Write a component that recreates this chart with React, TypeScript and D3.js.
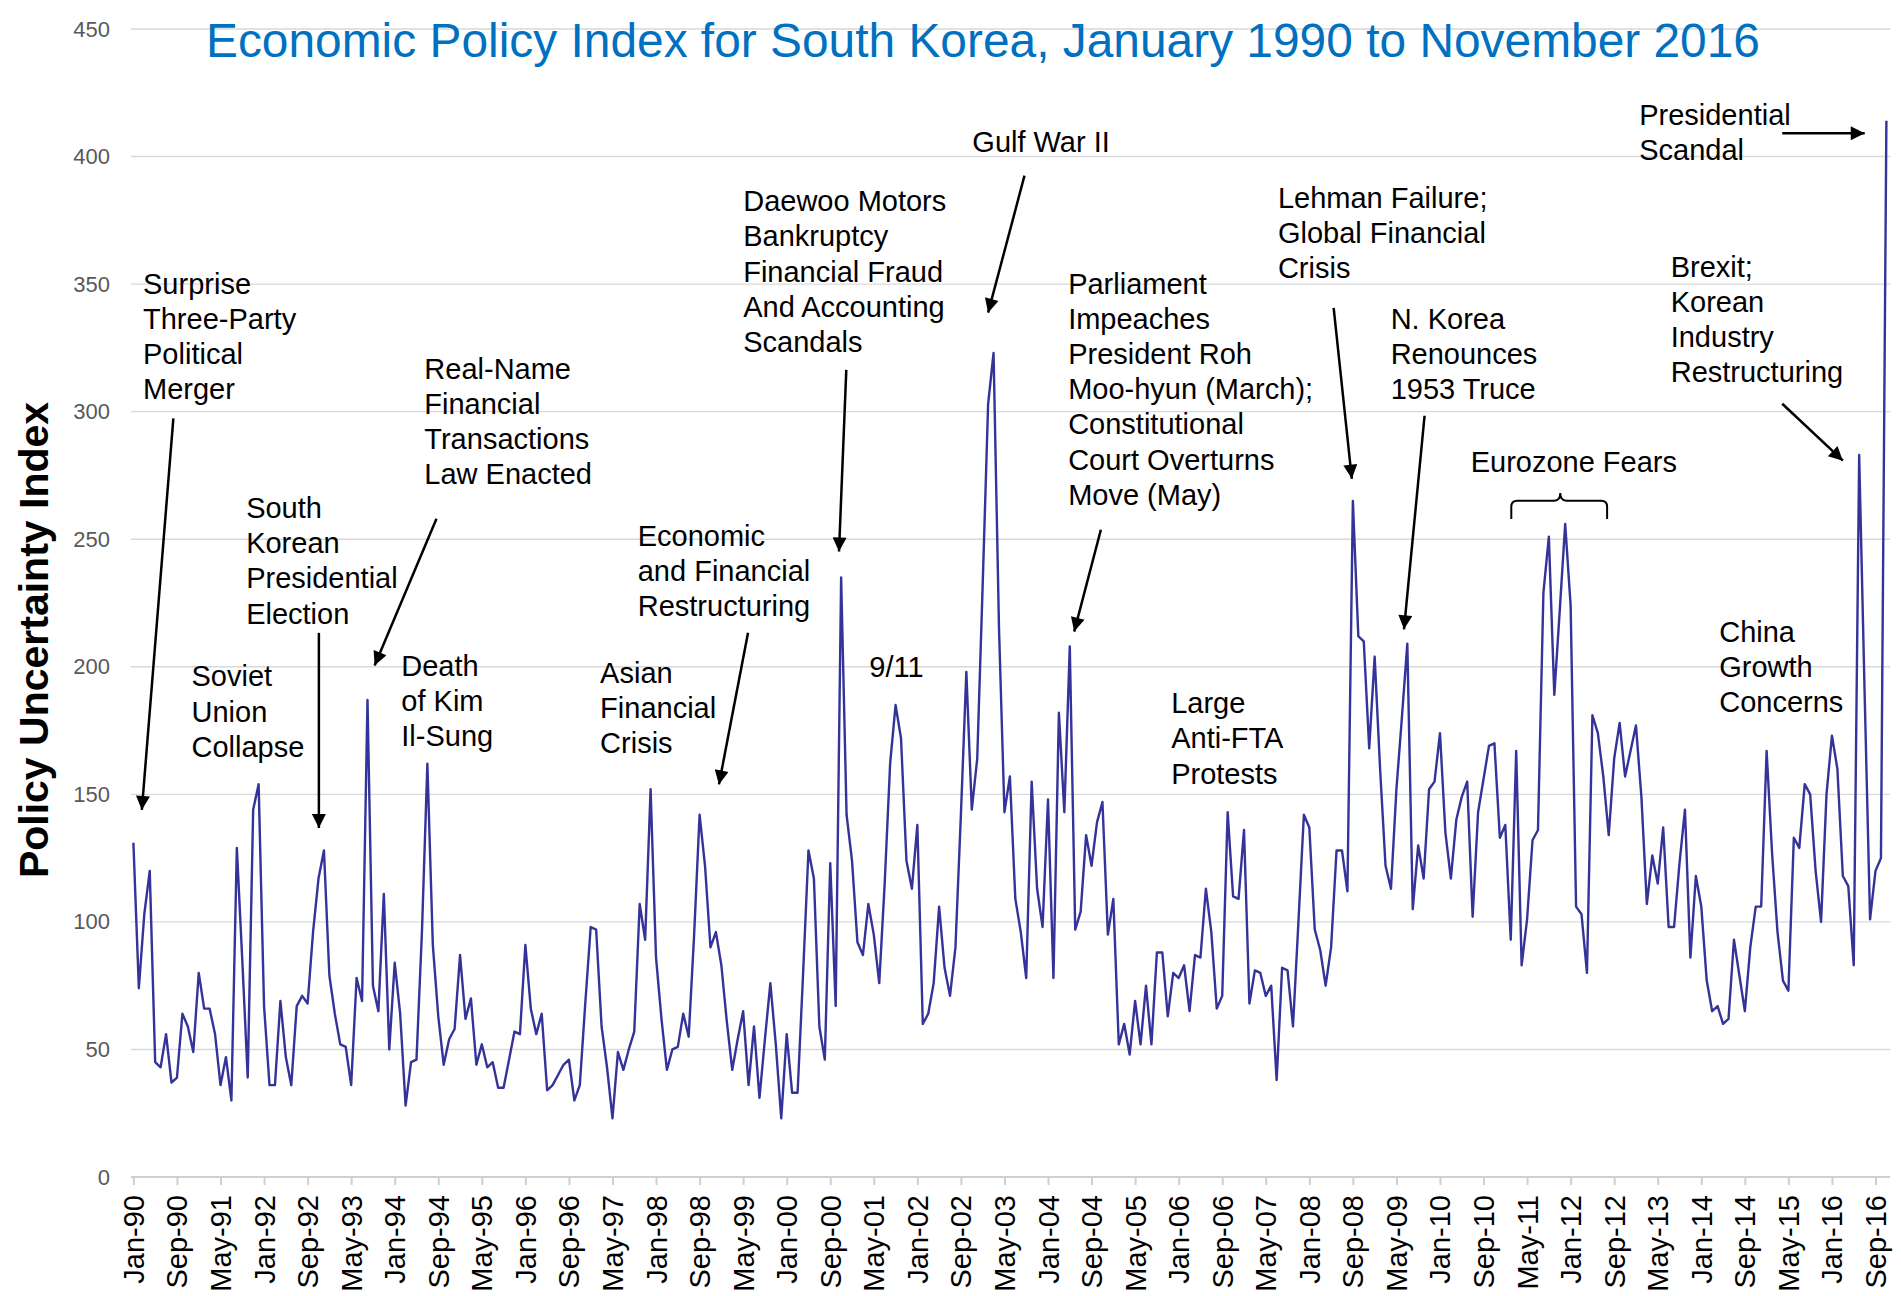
import { useEffect, useRef } from 'react';
import * as d3 from 'd3';

// Monthly policy uncertainty index, one array per decade (Jan 1990 .. Nov 2016)
const epu1990s = [
    131, 74, 103, 120, 45, 43, 56, 37, 39, 64, 59, 49,
    80, 66, 66, 56, 36, 47, 30, 129, 85, 39, 144, 154,
    67, 36, 36, 69, 47, 36, 67, 71, 68, 96, 117, 128,
    79, 64, 52, 51, 36, 78, 69, 187, 75, 65, 111, 50,
    84, 64, 28, 45, 46, 96, 162, 91, 63, 44, 54, 58,
    87, 62, 70, 44, 52, 43, 45, 35, 35, 46, 57, 56,
    91, 66, 56, 64, 34, 36, 40, 44, 46, 30, 36, 68,
    98, 97, 59, 43, 23, 49, 42, 50, 57, 107, 93, 152,
    86, 62, 42, 50, 51, 64, 55, 95, 142, 122, 90, 96,
    83, 61, 42, 54, 65, 36, 59, 31, 54, 76, 52, 23,
];
const epu2000s = [
    56, 33, 33, 79, 128, 117, 59, 46, 123, 67, 235, 142,
    124, 92, 87, 107, 95, 76, 115, 162, 185, 172, 124, 113,
    138, 60, 64, 76, 106, 82, 71, 90, 142, 198, 144, 164,
    232, 303, 323, 215, 143, 157, 109, 96, 78, 155, 113, 98,
    148, 78, 182, 143, 208, 97, 104, 134, 122, 139, 147, 95,
    109, 52, 60, 48, 69, 52, 75, 52, 88, 88, 63, 80,
    78, 83, 65, 87, 86, 113, 96, 66, 71, 143, 110, 109,
    136, 68, 81, 80, 71, 75, 38, 82, 81, 59, 100, 142,
    137, 97, 89, 75, 90, 128, 128, 112, 265, 212, 210, 168,
    204, 160, 122, 113, 152, 180, 209, 105, 130, 117, 152, 155,
];
const epu2010s = [
    174, 135, 117, 140, 149, 155, 102, 143, 156, 169, 170, 133,
    138, 93, 167, 83, 101, 132, 136, 229, 251, 189, 222, 256,
    224, 106, 103, 80, 181, 174, 157, 134, 164, 178, 157, 167,
    177, 149, 107, 126, 115, 137, 98, 98, 123, 144, 86, 118,
    106, 77, 65, 67, 60, 62, 93, 79, 65, 90, 106, 106,
    167, 127, 96, 77, 73, 133, 129, 154, 150, 120, 100, 150,
    173, 160, 118, 114, 83, 283, 190, 101, 120, 125, 414,
];

// category labels shown every 8 months
const tickLabels = [
    "Jan-90", "Sep-90", "May-91", "Jan-92", "Sep-92", "May-93", "Jan-94", "Sep-94", "May-95",
    "Jan-96", "Sep-96", "May-97", "Jan-98", "Sep-98", "May-99", "Jan-00", "Sep-00", "May-01",
    "Jan-02", "Sep-02", "May-03", "Jan-04", "Sep-04", "May-05", "Jan-06", "Sep-06", "May-07",
    "Jan-08", "Sep-08", "May-09", "Jan-10", "Sep-10", "May-11", "Jan-12", "Sep-12", "May-13",
    "Jan-14", "Sep-14", "May-15", "Jan-16", "Sep-16",
];
const yTicks = [0, 50, 100, 150, 200, 250, 300, 350, 400, 450];

// event notes, placed in data space (month index, index value)
const annotations = [
    { lines: ["Surprise", "Three-Party", "Political", "Merger"], m: 1.77, v: 350.2, arrow: [7.34, 297.4, 1.55, 143.9] },
    { lines: ["Soviet", "Union", "Collapse"], m: 10.68, v: 196.2 },
    { lines: ["South", "Korean", "Presidential", "Election"], m: 20.71, v: 262.2, arrow: [34.07, 213.3, 34.07, 136.8] },
    { lines: ["Real-Name", "Financial", "Transactions", "Law Enacted"], m: 53.44, v: 316.9, arrow: [55.67, 258.0, 44.31, 200.5] },
    { lines: ["Death", "of Kim", "Il-Sung"], m: 49.21, v: 200.5 },
    { lines: ["Asian", "Financial", "Crisis"], m: 85.73, v: 197.6 },
    { lines: ["Economic", "and Financial", "Restructuring"], m: 92.64, v: 251.3, arrow: [112.9, 213.3, 107.56, 153.9] },
    { lines: ["Daewoo Motors", "Bankruptcy", "Financial Fraud", "And Accounting", "Scandals"], m: 112.01, v: 382.5, arrow: [130.95, 316.4, 129.61, 245.2] },
    { lines: ["9/11"], m: 135.18, v: 200.0 },
    { lines: ["Gulf War II"], m: 154.1, v: 405.8, arrow: [163.68, 392.5, 157.0, 338.8] },
    { lines: ["Parliament", "Impeaches", "President Roh", "Moo-hyun (March);", "Constitutional", "Court Overturns", "Move (May)"], m: 171.7, v: 350.2, arrow: [177.71, 253.7, 172.81, 213.8] },
    { lines: ["Large", "Anti-FTA", "Protests"], m: 190.63, v: 185.7 },
    { lines: ["Lehman Failure;", "Global Financial", "Crisis"], m: 210.23, v: 383.9, arrow: [220.47, 340.7, 223.81, 273.7] },
    { lines: ["N. Korea", "Renounces", "1953 Truce"], m: 230.94, v: 336.4, arrow: [237.17, 298.4, 233.39, 214.7] },
    { lines: ["Eurozone Fears"], m: 245.64, v: 280.3 },
    { lines: ["Presidential", "Scandal"], m: 276.59, v: 416.2, arrow: [302.87, 409.1, 318.02, 409.1] },
    { lines: ["Brexit;", "Korean", "Industry", "Restructuring"], m: 282.38, v: 356.8, arrow: [302.87, 303.1, 314.01, 280.8] },
    { lines: ["China", "Growth", "Concerns"], m: 291.29, v: 213.8 },
];
// brace over the eurozone months: [start, end, centre, top value, foot value, nub value]
const eurozoneBrace = [253.1, 270.7, 262.1, 265.1, 257.9, 268.1];

const FONT = "'Liberation Sans', Arial, Helvetica, sans-serif";

export default function App() {
    const svgRef = useRef<SVGSVGElement>(null);

    useEffect(() => {
        if (!svgRef.current) return;
        const svg = d3.select(svgRef.current);
        svg.selectAll("*").remove();

        const values = [...epu1990s, ...epu2000s, ...epu2010s];

        const x = d3.scaleLinear().domain([0, 320]).range([133.4, 1875.5]);
        const y = d3.scaleLinear().domain([0, 450]).range([1177, 29]);
        const xLeft = x(-0.45);
        const xRight = x(322.7);

        svg.append("rect").attr("width", 1901).attr("height", 1296).attr("fill", "#ffffff");

        const defs = svg.append("defs");
        defs.append("marker")
            .attr("id", "arrowHead")
            .attr("viewBox", "0 0 10 10")
            .attr("refX", 10)
            .attr("refY", 5)
            .attr("markerWidth", 17)
            .attr("markerHeight", 14)
            .attr("markerUnits", "userSpaceOnUse")
            .attr("orient", "auto")
            .append("path")
            .attr("d", "M0,0 L10,5 L0,10 z")
            .attr("fill", "#000");

        // Gridlines
        svg.append("g")
            .selectAll("line")
            .data(yTicks.filter(d => d > 0))
            .join("line")
            .attr("x1", xLeft)
            .attr("x2", xRight)
            .attr("y1", d => y(d))
            .attr("y2", d => y(d))
            .attr("stroke", "#d9d9d9")
            .attr("stroke-width", 1.4);

        // y tick labels
        svg.append("g")
            .selectAll("text")
            .data(yTicks)
            .join("text")
            .attr("x", 110)
            .attr("y", d => y(d))
            .attr("text-anchor", "end")
            .attr("dominant-baseline", "central")
            .style("font-family", FONT)
            .style("font-size", "22px")
            .style("fill", "#595959")
            .text(d => d);

        // x axis
        const xAxis = svg.append("g")
            .attr("transform", `translate(0,${y(0)})`)
            .call(d3.axisBottom(x)
                .tickValues(d3.range(0, 321, 8))
                .tickFormat((d, i) => tickLabels[i])
                .tickSize(8)
                .tickPadding(10))
            .call(g => g.select(".domain").remove());

        xAxis.selectAll(".tick line")
            .attr("stroke", "#d0d0d0")
            .attr("stroke-width", 2);

        xAxis.selectAll(".tick text")
            .attr("transform", "rotate(-90)")
            .attr("x", -18)
            .attr("y", 0)
            .attr("dy", null)
            .attr("text-anchor", "end")
            .attr("dominant-baseline", "central")
            .style("font-family", FONT)
            .style("font-size", "29px")
            .style("fill", "#000");

        svg.append("line")
            .attr("x1", xLeft)
            .attr("x2", xRight)
            .attr("y1", y(0))
            .attr("y2", y(0))
            .attr("stroke", "#d0d0d0")
            .attr("stroke-width", 2);

        // Index line
        const line = d3.line<number>()
            .x((d, i) => x(i))
            .y(d => y(d));

        svg.append("path")
            .datum(values)
            .attr("d", line)
            .attr("fill", "none")
            .attr("stroke", "#333399")
            .attr("stroke-width", 2.4)
            .attr("stroke-linejoin", "round");

        // Title
        svg.append("text")
            .attr("x", 206)
            .attr("y", 57)
            .attr("textLength", 1554)
            .attr("lengthAdjust", "spacingAndGlyphs")
            .style("font-family", FONT)
            .style("font-size", "47.5px")
            .style("fill", "#0070C0")
            .text("Economic Policy Index for South Korea, January 1990 to November 2016");

        // y axis title
        svg.append("text")
            .attr("transform", "translate(48,640) rotate(-90)")
            .attr("text-anchor", "middle")
            .style("font-family", FONT)
            .style("font-size", "41px")
            .style("font-weight", "bold")
            .style("fill", "#000")
            .text("Policy Uncertainty Index");

        // Annotations
        const notes = svg.append("g");
        annotations.forEach(a => {
            const t = notes.append("text")
                .attr("x", x(a.m))
                .attr("y", y(a.v) + 10)
                .style("font-family", FONT)
                .style("font-size", "29px")
                .style("fill", "#000");
            a.lines.forEach((ln, i) => {
                t.append("tspan")
                    .attr("x", x(a.m))
                    .attr("dy", i === 0 ? 0 : 35.2)
                    .text(ln);
            });
            if (a.arrow) {
                const [m1, v1, m2, v2] = a.arrow;
                notes.append("line")
                    .attr("x1", x(m1))
                    .attr("y1", y(v1))
                    .attr("x2", x(m2))
                    .attr("y2", y(v2))
                    .attr("stroke", "#000")
                    .attr("stroke-width", 2.5)
                    .attr("marker-end", "url(#arrowHead)");
            }
        });

        // Eurozone brace
        const [bs, be, bc, bTop, bFoot, bNub] = eurozoneBrace;
        const xa = x(bs), xb = x(be), xc = x(bc);
        const yt = y(bTop), yf = y(bFoot), yn = y(bNub);
        const r = 6;
        const bracePath = d3.path();
        bracePath.moveTo(xa, yf);
        bracePath.lineTo(xa, yt + r);
        bracePath.quadraticCurveTo(xa, yt, xa + r, yt);
        bracePath.lineTo(xc - r, yt);
        bracePath.quadraticCurveTo(xc, yt, xc, yn);
        bracePath.quadraticCurveTo(xc, yt, xc + r, yt);
        bracePath.lineTo(xb - r, yt);
        bracePath.quadraticCurveTo(xb, yt, xb, yt + r);
        bracePath.lineTo(xb, yf);
        notes.append("path")
            .attr("d", bracePath.toString())
            .attr("fill", "none")
            .attr("stroke", "#000")
            .attr("stroke-width", 2);
    }, []);

    return (
        <svg
            ref={svgRef}
            width={1901}
            height={1296}
            style={{ position: "absolute", top: 0, left: 0, display: "block" }}
        ></svg>
    );
}
